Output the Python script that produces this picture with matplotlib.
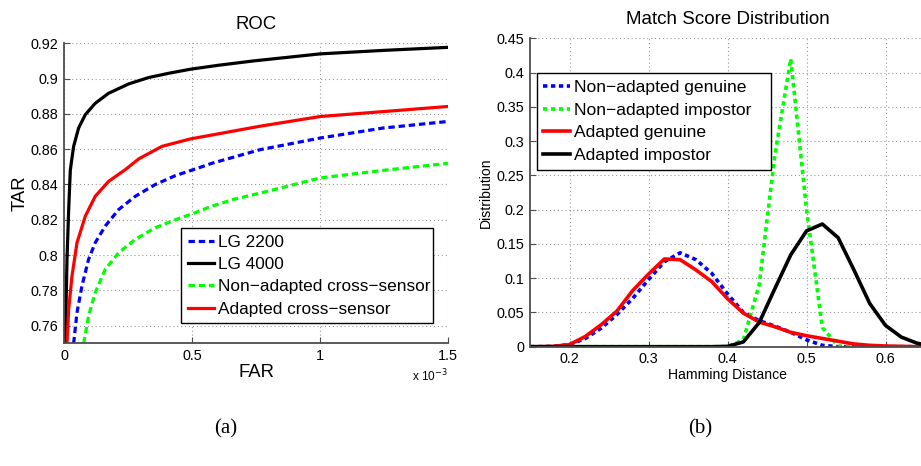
import matplotlib
matplotlib.use("Agg")
import matplotlib.pyplot as plt

plt.rcParams['font.family'] = ['Liberation Sans', 'DejaVu Sans']

# ROC curves (FAR in units of 1e-3)
far_lg2200 = [0.0366, 0.0497, 0.069, 0.095, 0.121, 0.160, 0.2126, 0.2776, 0.356, 0.434, 0.525, 0.577,
              0.765, 1.0, 1.247, 1.5]
tar_lg2200 = [0.750, 0.7674, 0.7825, 0.7976, 0.807, 0.8164, 0.8258, 0.8333, 0.840, 0.845, 0.8494, 0.852,
              0.8597, 0.8663, 0.872, 0.8757]

far_lg4000 = [0.004, 0.0066, 0.0106, 0.0172, 0.0235, 0.030, 0.0366, 0.056, 0.082, 0.121, 0.1735, 0.252,
              0.33, 0.408, 0.4927, 0.6, 0.739, 0.87, 1.0, 1.25, 1.5]
tar_lg4000 = [0.750, 0.7693, 0.7976, 0.8258, 0.848, 0.855, 0.8616, 0.872, 0.8795, 0.886, 0.8917, 0.897,
              0.9006, 0.903, 0.9053, 0.9075, 0.910, 0.912, 0.914, 0.916, 0.9177]

far_nonadapt = [0.0758, 0.095, 0.121, 0.160, 0.2126, 0.2776, 0.356, 0.434, 0.512, 0.577, 0.66, 0.791,
                1.0, 1.247, 1.5]
tar_nonadapt = [0.750, 0.7655, 0.7787, 0.7919, 0.8013, 0.8089, 0.8155, 0.820, 0.824, 0.8277, 0.8315, 0.836,
                0.8437, 0.848, 0.852]

far_adapt = [0.0106, 0.0172, 0.030, 0.0497, 0.082, 0.121, 0.1735, 0.2386, 0.291, 0.382, 0.4927, 0.765,
             1.0, 1.247, 1.5]
tar_adapt = [0.750, 0.7693, 0.788, 0.807, 0.822, 0.8333, 0.8418, 0.8484, 0.8545, 0.8616, 0.8658, 0.873,
             0.8785, 0.8813, 0.8842]

roc_labels = ['LG 2200', 'LG 4000', 'Non\u2212adapted cross\u2212sensor', 'Adapted cross\u2212sensor']

# match score distributions
hd = [0.14, 0.16, 0.18, 0.20, 0.22, 0.24, 0.26, 0.28, 0.30, 0.32, 0.34, 0.36, 0.38, 0.40,
      0.42, 0.44, 0.46, 0.48, 0.50, 0.52, 0.54, 0.56, 0.58, 0.60, 0.62, 0.64, 0.66, 0.68]
na_genuine = [0, 0, 0.0005, 0.003, 0.012, 0.027, 0.047, 0.0705, 0.098, 0.124, 0.137, 0.127, 0.107, 0.077,
              0.05, 0.038, 0.03, 0.021, 0.01, 0.002, 0, 0, 0, 0, 0, 0, 0, 0]
na_impostor = [0, 0, 0, 0, 0, 0, 0, 0, 0, 0, 0, 0, 0, 0,
               0.01, 0.09, 0.28, 0.42, 0.20, 0.028, 0.001, 0, 0, 0, 0, 0, 0, 0]
ad_genuine = [0, 0, 0.0005, 0.003, 0.015, 0.032, 0.052, 0.082, 0.106, 0.128, 0.127, 0.112, 0.095, 0.07,
              0.049, 0.036, 0.029, 0.021, 0.016, 0.012, 0.008, 0.004, 0.002, 0.001, 0.0005, 0, 0, 0]
ad_impostor = [0, 0, 0, 0, 0, 0, 0, 0, 0, 0, 0, 0, 0, 0.0005,
               0.007, 0.035, 0.085, 0.134, 0.169, 0.179, 0.159, 0.112, 0.063, 0.031, 0.014, 0.005, 0.001, 0]
dist_labels = ['Non\u2212adapted genuine', 'Non\u2212adapted impostor', 'Adapted genuine', 'Adapted impostor']

fig = plt.figure(figsize=(9.21, 4.66), dpi=100)
ax1 = fig.add_axes([0.0698, 0.2633, 0.4166, 0.6438])
ax2 = fig.add_axes([0.5755, 0.256, 0.4289, 0.6618])


def style_axes(ax):
    for s in ['top', 'right']:
        ax.spines[s].set_visible(False)
    for s in ['left', 'bottom']:
        ax.spines[s].set_color('0.3')
        ax.spines[s].set_linewidth(1.3)
    ax.grid(True, color='0.6', linestyle=(0, (1, 2.5)), linewidth=0.8)
    ax.set_axisbelow(True)
    ax.tick_params(direction='in', length=4, width=0.8, color='0.3', labelsize=10.4, pad=4)


def box_legend(ax, x0, y0, w, h, fs):
    # legend with a square black frame placed in figure pixels
    leg = ax.legend(loc='upper left', bbox_to_anchor=(x0 / 921, 1 - (y0 + h) / 466, w / 921, h / 466),
                    bbox_transform=fig.transFigure, mode='expand', borderaxespad=0, fontsize=fs,
                    handlelength=1.55, handletextpad=0.2, labelspacing=0.42, borderpad=0.38,
                    fancybox=False, framealpha=1)
    leg.get_frame().set_edgecolor('black')
    leg.get_frame().set_linewidth(1.0)
    return leg


# (a) ROC
lw = 2.3
ax1.plot(far_lg2200, tar_lg2200, color='blue', lw=lw, dashes=(2.0, 1.2), label=roc_labels[0])
ax1.plot(far_lg4000, tar_lg4000, color='black', lw=lw, label=roc_labels[1])
ax1.plot(far_nonadapt, tar_nonadapt, color='#00ff00', lw=lw, dashes=(2.0, 1.2), label=roc_labels[2])
ax1.plot(far_adapt, tar_adapt, color='red', lw=lw, label=roc_labels[3])
ax1.set_xlim(0, 1.5)
ax1.set_ylim(0.75, 0.92)
ax1.set_xticks([0, 0.5, 1, 1.5])
ax1.set_xticklabels(['0', '0.5', '1', '1.5'])
ax1.set_yticks([0.76, 0.78, 0.80, 0.82, 0.84, 0.86, 0.88, 0.90, 0.92])
ax1.set_yticklabels(['0.76', '0.78', '0.8', '0.82', '0.84', '0.86', '0.88', '0.9', '0.92'])
style_axes(ax1)
ax1.set_title('ROC', fontsize=13.3, pad=10)
ax1.set_xlabel('FAR', fontsize=13.3, labelpad=0.5)
ax1.set_ylabel('TAR', fontsize=13.3, labelpad=2)
ax1.text(1.0, -0.08, 'x 10$^{-3}$', transform=ax1.transAxes, ha='right', va='top', fontsize=8.5)
box_legend(ax1, 181, 228.3, 252, 92, 12.4)

# (b) match score distribution
lw2 = 2.6
ax2.plot(hd, na_genuine, color='blue', lw=lw2, dashes=(1.2, 1.0), label=dist_labels[0])
ax2.plot(hd, na_impostor, color='#00ff00', lw=lw2, dashes=(1.2, 1.0), label=dist_labels[1])
ax2.plot(hd, ad_genuine, color='red', lw=lw2, label=dist_labels[2])
ax2.plot(hd, ad_impostor, color='black', lw=lw2, label=dist_labels[3])
ax2.set_xlim(0.15, 0.65)
ax2.set_ylim(0, 0.45)
ax2.set_xticks([0.2, 0.3, 0.4, 0.5, 0.6])
ax2.set_xticklabels(['0.2', '0.3', '0.4', '0.5', '0.6'])
ax2.set_yticks([0, 0.05, 0.1, 0.15, 0.2, 0.25, 0.3, 0.35, 0.4, 0.45])
ax2.set_yticklabels(['0', '0.05', '0.1', '0.15', '0.2', '0.25', '0.3', '0.35', '0.4', '0.45'])
style_axes(ax2)
ax2.set_title('Match Score Distribution', fontsize=13.5, pad=10)
ax2.set_xlabel('Hamming Distance', fontsize=10.1, labelpad=1)
ax2.set_ylabel('Distribution', fontsize=10.1, labelpad=3)
box_legend(ax2, 536.7, 73.3, 234, 99, 12.6)

# panel captions
fig.text(226 / 921, 1 - 429 / 466, '(a)', family='Liberation Serif', fontsize=15, ha='center', va='center')
fig.text(700 / 921, 1 - 429 / 466, '(b)', family='Liberation Serif', fontsize=15, ha='center', va='center')

fig.savefig('out.png', dpi=100)
